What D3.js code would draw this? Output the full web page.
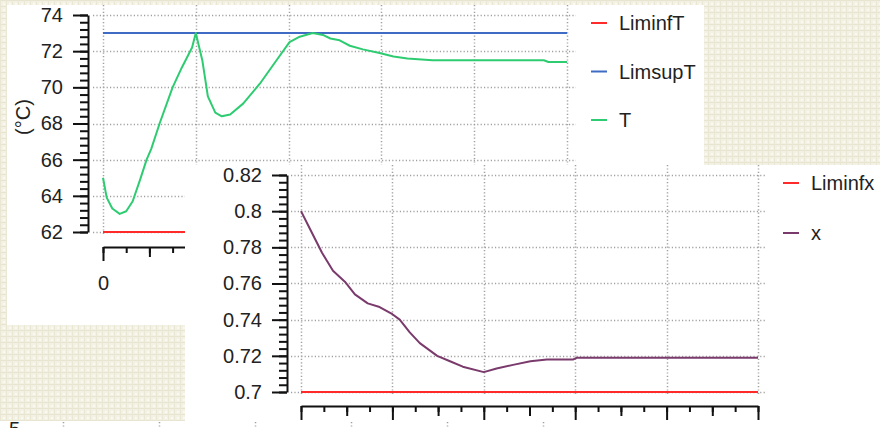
<!DOCTYPE html>
<html>
<head>
<meta charset="utf-8">
<script src="https://d3js.org/d3.v7.min.js"></script>
<style>
body { margin: 0; background: #f2f0e2; overflow: hidden; }
text { font-family: "Liberation Sans", Arial, sans-serif; fill: #222; }
.grid line { stroke: #a0a0a0; stroke-width: 1.5; stroke-dasharray: 1.2,2.2; }
.axis path, .axis line { stroke: #111; stroke-width: 2; }
.axis text { font-size: 20px; fill: #222; }
</style>
</head>
<body>
<script>
// shared time axis (labels mostly hidden behind the panels)
var timeTicks = [0, 10, 20, 30, 40, 50];

// top chart: temperature
var tTime = [0, 0.4, 1.0, 1.8, 2.5, 3.2, 4.0, 4.7, 5.2, 6.1, 7.5, 8.5, 9.6, 10.0, 10.7, 11.3, 12.1, 12.8, 13.7, 15.1,
             16.9, 18.7, 20.1, 21.2, 22.6, 23.7, 24.5, 25.5, 26.6, 28.0, 29.8, 31.3, 32.8, 35.5, 47.5, 48.0, 50];
var tValues = [65.0, 63.9, 63.3, 63.0, 63.15, 63.7, 64.9, 66.0, 66.6, 68.0, 70.0, 71.1, 72.2, 73.0, 71.5, 69.5, 68.6, 68.4, 68.5, 69.1,
               70.2, 71.5, 72.5, 72.8, 73.0, 72.9, 72.7, 72.6, 72.3, 72.1, 71.9, 71.7, 71.6, 71.5, 71.5, 71.4, 71.4];
var liminfT = 62, limsupT = 73;
var tTicks = [62, 64, 66, 68, 70, 72, 74];

// bottom chart: x
var xTime = [0, 1.0, 2.3, 3.5, 4.8, 5.9, 7.3, 8.6, 10.0, 10.8, 11.9, 13.0, 14.9, 16.3, 17.7, 20.0, 21.4, 23.2, 25.1, 26.9, 29.8, 30.2, 50];
var xValues = [0.800, 0.790, 0.777, 0.767, 0.761, 0.754, 0.749, 0.747, 0.743, 0.740, 0.733, 0.727, 0.720, 0.717, 0.714,
               0.711, 0.713, 0.715, 0.717, 0.718, 0.718, 0.719, 0.719];
var liminfx = 0.7;
var xTicks = [0.7, 0.72, 0.74, 0.76, 0.78, 0.8, 0.82];

var legendTop = ["LiminfT", "LimsupT", "T"];
var legendBottom = ["Liminfx", "x"];
var colors = {LiminfT: "#ff2a2a", LimsupT: "#3f6bc4", T: "#2ecc71", Liminfx: "#ff2a2a", x: "#7a3a6c"};

var svg = d3.select("body").append("svg")
    .attr("width", 880)
    .attr("height", 428);

// textured paper background
var pat = svg.append("defs").append("pattern")
    .attr("id", "paper")
    .attr("width", 6).attr("height", 6)
    .attr("patternUnits", "userSpaceOnUse");
pat.append("rect").attr("width", 6).attr("height", 6).attr("fill", "#f3f1e4");
pat.append("rect").attr("width", 6).attr("height", 1).attr("fill", "#e7e4d0");
pat.append("rect").attr("width", 1).attr("height", 6).attr("fill", "#eae7d5");
pat.append("rect").attr("x", 3).attr("y", 3).attr("width", 2).attr("height", 2).attr("fill", "#faf9f1");
svg.append("rect").attr("width", 880).attr("height", 428).attr("fill", "url(#paper)");

function range(a, b, step) {
  var out = [];
  for (var i = 0; a + i * step <= b + 1e-9; i++) out.push(+(a + i * step).toFixed(4));
  return out;
}

function drawChart(cfg) {
  var g = svg.append("g");
  g.append("rect")
      .attr("x", cfg.panel[0]).attr("y", cfg.panel[1])
      .attr("width", cfg.panel[2]).attr("height", cfg.panel[3])
      .attr("fill", "#fff");

  var x = d3.scaleLinear().domain([0, 50]).range([cfg.left, cfg.right]);
  var y = d3.scaleLinear().domain([cfg.yTicks[0], cfg.yTicks[cfg.yTicks.length - 1]]).range([cfg.bottom, cfg.top]);

  // dotted grid
  var grid = g.append("g").attr("class", "grid");
  grid.selectAll(".h").data(cfg.yTicks).enter().append("line")
      .attr("x1", cfg.left - 10).attr("x2", cfg.right + 9)
      .attr("y1", function(d) { return Math.round(y(d)) + 0.5; })
      .attr("y2", function(d) { return Math.round(y(d)) + 0.5; });
  grid.selectAll(".v").data(timeTicks).enter().append("line")
      .attr("x1", function(d) { return Math.round(x(d)) + 0.5; })
      .attr("x2", function(d) { return Math.round(x(d)) + 0.5; })
      .attr("y1", cfg.panel[1]).attr("y2", cfg.bottom + 2);

  // y axis: major + minor ticks
  var ystep = (cfg.yTicks[1] - cfg.yTicks[0]) / 5;
  g.append("g").attr("class", "axis")
      .attr("transform", "translate(" + cfg.yAxisX + ",0)")
      .call(d3.axisLeft(y).tickValues(range(cfg.yTicks[0], cfg.yTicks[cfg.yTicks.length - 1], ystep))
        .tickSize(8).tickSizeOuter(0).tickFormat(""));
  g.append("g").attr("class", "axis")
      .attr("transform", "translate(" + cfg.yAxisX + ",0)")
      .call(d3.axisLeft(y).tickValues(cfg.yTicks).tickSize(15).tickSizeOuter(0).tickPadding(10)
        .tickFormat(function(d) { return String(+d.toFixed(3)); }))
      .select(".domain").remove();

  // x axis: 2.5 / 5 / 10 ticks (only the labels that are not covered)
  g.append("g").attr("class", "axis")
      .attr("transform", "translate(0," + cfg.xAxisY + ")")
      .call(d3.axisBottom(x).tickValues(range(0, 50, 2.5)).tickSize(6).tickSizeOuter(0).tickFormat(""));
  g.append("g").attr("class", "axis")
      .attr("transform", "translate(0," + cfg.xAxisY + ")")
      .call(d3.axisBottom(x).tickValues(range(5, 45, 10)).tickSize(10).tickSizeOuter(0).tickFormat(""))
      .select(".domain").remove();
  g.append("g").attr("class", "axis")
      .attr("transform", "translate(0," + cfg.xAxisY + ")")
      .call(d3.axisBottom(x).tickValues(timeTicks).tickSize(14).tickSizeOuter(0).tickPadding(15)
        .tickFormat(function(d) { return cfg.xLabels.indexOf(d) >= 0 ? d : ""; }))
      .select(".domain").remove();

  // limit lines and series
  cfg.limits.forEach(function(l) {
    g.append("line")
        .attr("x1", x(0)).attr("x2", x(50))
        .attr("y1", y(l.value)).attr("y2", y(l.value))
        .attr("stroke", colors[l.name]).attr("stroke-width", 2);
  });
  var line = d3.line()
      .x(function(d) { return x(d[0]); })
      .y(function(d) { return y(d[1]); });
  g.append("path")
      .datum(d3.zip(cfg.time, cfg.values))
      .attr("d", line)
      .attr("fill", "none")
      .attr("stroke", colors[cfg.series])
      .attr("stroke-width", 2)
      .attr("stroke-linejoin", "round");

  // legend
  var leg = g.selectAll(".leg").data(cfg.legend).enter().append("g")
      .attr("transform", function(d, i) { return "translate(" + cfg.legX + "," + (cfg.legY + i * cfg.legGap) + ")"; });
  leg.append("line").attr("x1", 0).attr("x2", 16)
      .attr("stroke", function(d) { return colors[d]; }).attr("stroke-width", 2);
  leg.append("text").attr("x", 28).attr("dy", "0.36em")
      .style("font-size", "20px")
      .text(function(d) { return d; });
  return g;
}

var top1 = drawChart({
  panel: [7, 5, 697, 320], left: 103, right: 567, top: 15, bottom: 232,
  yAxisX: 88, xAxisY: 247, yTicks: tTicks, xLabels: [0],
  limits: [{name: "LimsupT", value: limsupT}, {name: "LiminfT", value: liminfT}],
  time: tTime, values: tValues, series: "T",
  legend: legendTop, legX: 591, legY: 23, legGap: 48.5
});
top1.append("text")
    .attr("transform", "translate(23,117) rotate(-90)")
    .attr("text-anchor", "middle").attr("dy", "0.36em")
    .style("font-size", "20px")
    .text("(°C)");

drawChart({
  panel: [185, 165, 695, 263], left: 301, right: 758, top: 175, bottom: 392,
  yAxisX: 287, xAxisY: 406, yTicks: xTicks, xLabels: [],
  limits: [{name: "Liminfx", value: liminfx}],
  time: xTime, values: xValues, series: "x",
  legend: legendBottom, legX: 783, legY: 183, legGap: 50
});

// third panel peeking in at the bottom edge
var g3 = svg.append("g");
g3.append("rect").attr("x", 0).attr("y", 421).attr("width", 880).attr("height", 7).attr("fill", "#fff");
var x3 = d3.scaleLinear().domain([0, 50]).range([63, 543]);
g3.append("g").attr("class", "grid").selectAll("line").data(timeTicks).enter().append("line")
    .attr("x1", function(d) { return Math.round(x3(d)) + 0.5; })
    .attr("x2", function(d) { return Math.round(x3(d)) + 0.5; })
    .attr("y1", 422).attr("y2", 428);
g3.append("text").attr("x", 20).attr("y", 436).attr("text-anchor", "end")
    .style("font-size", "20px").text("5");
</script>
</body>
</html>
